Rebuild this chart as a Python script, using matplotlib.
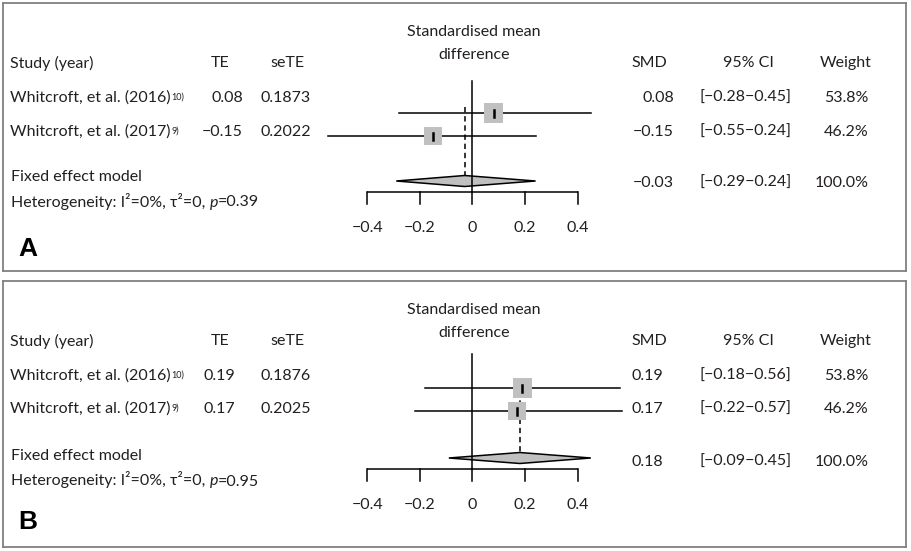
import numpy as np
import matplotlib
matplotlib.use("Agg")
import matplotlib.pyplot as plt
from matplotlib.patches import Rectangle, Polygon

# data
studies = ["Whitcroft, et al. (2016)", "Whitcroft, et al. (2017)"]
refs = ["10)", "9)"]
ticks = [-0.4, -0.2, 0.0, 0.2, 0.4]
tick_labels = ["\u22120.4", "\u22120.2", "0", "0.2", "0.4"]

te_a = [0.08, -0.15]
sete_a = [0.1873, 0.2022]
lo_a = [-0.28, -0.55]
hi_a = [0.45, 0.24]
weight_a = [53.8, 46.2]
fixed_a = [-0.03, -0.29, 0.24]
p_a = 0.39

te_b = [0.19, 0.17]
sete_b = [0.1876, 0.2025]
lo_b = [-0.18, -0.22]
hi_b = [0.56, 0.57]
weight_b = [53.8, 46.2]
fixed_b = [0.18, -0.09, 0.45]
p_b = 0.95

W, H = 912, 551
FONT = ["Lato", "DejaVu Sans"]
FS = 11.5
plt.rcParams["font.family"] = FONT

fig = plt.figure(figsize=(W / 100, H / 100), dpi=100)


def axes_px(x0, y0, x1, y1, **kw):
    return fig.add_axes([x0 / W, 1 - y1 / H, (x1 - x0) / W, (y1 - y0) / H], **kw)


def fmt(v, nd=2):
    return f"{v:.{nd}f}".replace("-", "\u2212")


def draw_panel(top, bottom, letter, te, sete, lo, hi, weight, fixed, p_het,
               te_x, te_ha, smd_x, smd_ha, rows_y, text_y, right_y, zero_top):
    # frame + text layer in pixel coords
    bg = axes_px(3, top, 906, bottom)
    bg.set_xlim(3, 906)
    bg.set_ylim(bottom - top, 0)
    bg.set_xticks([])
    bg.set_yticks([])
    for s in bg.spines.values():
        s.set_color("#808080")
        s.set_linewidth(1.3)

    def t(x, y, s, **kw):
        kw.setdefault("fontsize", FS)
        kw.setdefault("va", "center")
        kw.setdefault("color", "#231f20")
        return bg.text(x, y, s, **kw)

    t(474, 29, "Standardised mean", ha="center")
    t(474, 52, "difference", ha="center")
    hy = 60
    t(10, hy, "Study (year)", ha="left")
    t(220, hy, "TE", ha="center")
    t(287, hy, "seTE", ha="center")
    t(649, hy, "SMD", ha="center")
    t(748, hy, "95% CI", ha="center")
    t(846, hy, "Weight", ha="center")

    for i in range(len(studies)):
        y = text_y[i]
        st = t(10, y, studies[i], ha="left")
        bg.annotate(refs[i], xy=(1, 1), xycoords=st, xytext=(0.5, -1.5),
                    textcoords="offset points", fontsize=6.5, va="top",
                    ha="left", color="#231f20")
        t(te_x, y, fmt(te[i]), ha=te_ha)
        t(286, y, f"{sete[i]:.4f}", ha="center")
        ry = right_y[i]
        t(smd_x, ry, fmt(te[i]), ha=smd_ha)
        t(700, ry, f"[{fmt(lo[i])}\u2212{hi[i]:.2f}]", ha="left")
        t(869, ry, f"{weight[i]:.1f}%", ha="right")

    t(11, text_y[2], "Fixed effect model", ha="left")
    h1 = t(11, text_y[3], "Heterogeneity: I\u00b2=0%, \u03c4\u00b2=0,", ha="left")
    h2 = bg.annotate("p", xy=(1, 0), xycoords=h1, xytext=(3, 0),
                     textcoords="offset points", fontsize=FS, va="bottom",
                     ha="left", style="italic", color="#231f20")
    bg.annotate(f"={p_het:.2f}", xy=(1, 0), xycoords=h2, xytext=(0, 0),
                textcoords="offset points", fontsize=FS, va="bottom",
                ha="left", color="#231f20")
    ry = right_y[2]
    t(smd_x, ry, fmt(fixed[0]), ha=smd_ha)
    t(700, ry, f"[{fmt(fixed[1])}\u2212{fixed[2]:.2f}]", ha="left")
    t(869, ry, "100.0%", ha="right")

    t(18, text_y[4], letter, ha="left", fontsize=19, fontweight="bold",
      family=["Liberation Sans", "DejaVu Sans"], color="black")

    # forest plot layer
    ax = axes_px(320, top, 625, bottom)
    ax.set_xlim(-0.58, 0.58)
    ax.set_ylim(bottom - top, 0)
    ax.axis("off")
    ppu = (625 - 320) / 1.16  # pixels per SMD unit

    axis_y = rows_y[3]
    ax.plot([ticks[0], ticks[-1]], [axis_y, axis_y], color="black", lw=1.1,
            solid_capstyle="butt")
    for xv, lab in zip(ticks, tick_labels):
        ax.plot([xv, xv], [axis_y, axis_y + 12], color="black", lw=1.1)
        ax.text(xv, axis_y + 36, lab, ha="center", va="center", fontsize=FS,
                color="#231f20")

    dy = rows_y[2]
    ax.plot([fixed[0], fixed[0]], [rows_y[0] - 6, dy - 5.5], color="black",
            lw=1.1, ls=(0, (3.5, 2.5)), zorder=1)

    for i in range(len(studies)):
        y = rows_y[i]
        ax.plot([lo[i], hi[i]], [y, y], color="black", lw=1.1, zorder=2)
        side = 19 * np.sqrt(weight[i] / 50)
        ax.add_patch(Rectangle((te[i] - side / 2 / ppu, y - side / 2),
                               side / ppu, side, facecolor="#c0c0c0",
                               edgecolor="none", zorder=3))
        ax.plot([te[i], te[i]], [y - 3.5, y + 3.5], color="black", lw=1.8,
                zorder=4)

    diamond = Polygon([(fixed[1], dy), (fixed[0], dy - 5.5), (fixed[2], dy),
                       (fixed[0], dy + 5.5)], closed=True,
                      facecolor="#c0c0c0", edgecolor="black", lw=1.1, zorder=3)
    ax.add_patch(diamond)
    ax.plot([0, 0], [zero_top, axis_y], color="black", lw=1.1, zorder=5)


draw_panel(3, 271, "A", te_a, sete_a, lo_a, hi_a, weight_a, fixed_a, p_a,
           te_x=243, te_ha="right", smd_x=674, smd_ha="right",
           rows_y=[110, 133, 178, 189], text_y=[95, 129, 174, 198, 246],
           right_y=[95, 129, 180], zero_top=78)
draw_panel(281, 547, "B", te_b, sete_b, lo_b, hi_b, weight_b, fixed_b, p_b,
           te_x=235, te_ha="right", smd_x=632, smd_ha="left",
           rows_y=[107, 130, 177, 188], text_y=[95, 128, 175, 199, 241],
           right_y=[95, 128, 181], zero_top=73)

fig.savefig("out.png", dpi=100)
